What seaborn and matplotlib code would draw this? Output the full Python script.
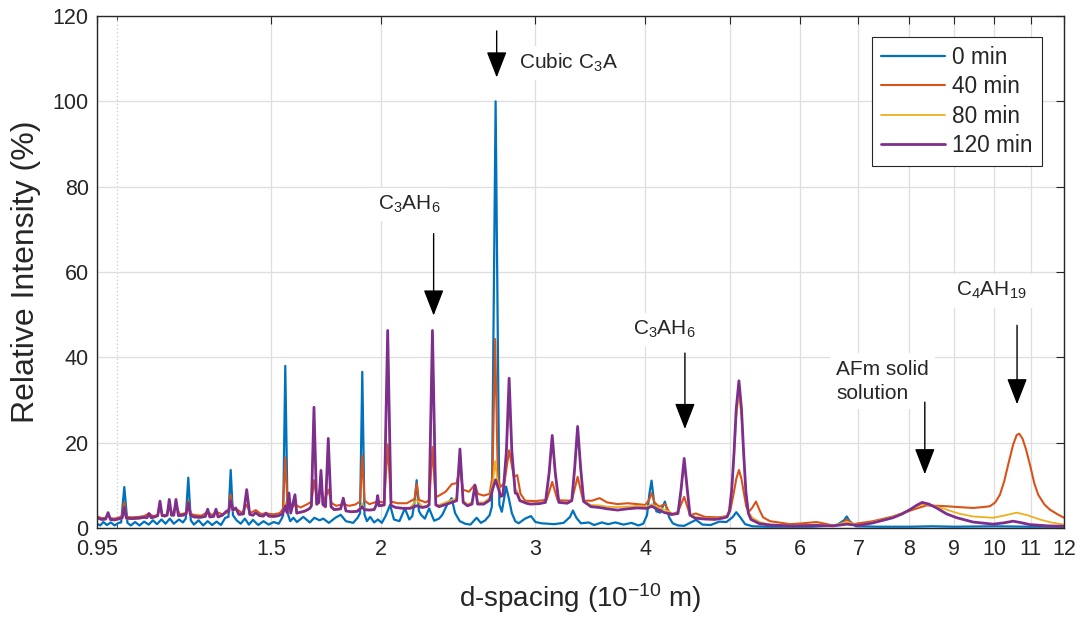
import numpy as np
import pandas as pd
import matplotlib
matplotlib.use("Agg")
import matplotlib.pyplot as plt
import seaborn as sns
from matplotlib.ticker import FixedLocator, FixedFormatter, NullFormatter

# ---------------------------------------------------------------------------
# XRD traces: (d-spacing in 1e-10 m, relative intensity in %)
# ---------------------------------------------------------------------------
scan_0min = [
    (0.950, 1.0), (0.958, 0.6), (0.966, 1.4), (0.975, 0.7), (0.985, 1.3), (0.995, 0.6), (1.005, 1.2),
    (1.012, 1.3), (1.0205, 9.6), (1.029, 1.2),
    (1.038, 0.6), (1.050, 1.4), (1.062, 0.6), (1.075, 1.5), (1.088, 0.8), (1.100, 1.8), (1.112, 0.9),
    (1.125, 2.0), (1.137, 1.0), (1.150, 2.2), (1.162, 1.0), (1.178, 2.0), (1.190, 1.3),
    (1.199, 2.2), (1.207, 11.8), (1.215, 1.8),
    (1.225, 0.8), (1.240, 1.8), (1.255, 0.6), (1.270, 1.6), (1.285, 0.7), (1.300, 1.5), (1.315, 0.7),
    (1.330, 2.4), (1.341, 2.6), (1.349, 13.6), (1.357, 3.0),
    (1.370, 1.8), (1.385, 1.0), (1.400, 2.2), (1.415, 0.8), (1.430, 1.9), (1.450, 0.7), (1.470, 1.6),
    (1.490, 0.8), (1.510, 1.4), (1.530, 1.0), (1.542, 2.2),
    (1.548, 3.0), (1.5566, 38.0), (1.566, 3.5),
    (1.577, 1.6), (1.590, 2.4), (1.605, 1.4), (1.632, 2.6), (1.660, 1.3), (1.680, 2.4), (1.703, 1.8),
    (1.720, 2.2), (1.745, 1.2), (1.775, 2.4), (1.800, 3.1), (1.825, 1.6), (1.860, 1.2), (1.882, 2.4),
    (1.894, 3.5), (1.905, 36.6), (1.916, 3.2),
    (1.928, 1.6), (1.945, 2.6), (1.965, 1.3), (1.985, 2.0), (2.005, 1.2), (2.025, 2.8), (2.049, 5.4),
    (2.070, 2.0), (2.100, 1.6), (2.130, 4.6), (2.155, 2.0), (2.172, 2.8),
    (2.185, 6.0), (2.197, 11.2), (2.210, 4.0),
    (2.222, 3.1), (2.245, 2.2), (2.270, 4.6), (2.300, 1.7), (2.330, 2.2), (2.350, 3.1), (2.380, 5.5),
    (2.408, 7.0), (2.430, 3.5), (2.460, 1.6), (2.495, 1.0), (2.530, 0.8), (2.571, 2.4), (2.600, 1.2),
    (2.630, 1.8), (2.660, 3.0),
    (2.676, 5.0), (2.7025, 100.0), (2.729, 5.5),
    (2.747, 3.8), (2.778, 9.7), (2.800, 6.6), (2.820, 3.5), (2.845, 1.6), (2.870, 1.1),
    (2.920, 2.2), (2.965, 2.8), (3.000, 1.4), (3.050, 1.1), (3.100, 1.0), (3.150, 0.9), (3.230, 1.2),
    (3.285, 2.6), (3.310, 4.1), (3.340, 2.4), (3.380, 1.1), (3.450, 1.3), (3.500, 0.7), (3.570, 1.3),
    (3.630, 0.9), (3.700, 1.3), (3.780, 0.8), (3.860, 1.2), (3.930, 0.6), (3.980, 1.0), (4.020, 3.0),
    (4.045, 8.0), (4.068, 11.1), (4.095, 6.0),
    (4.120, 3.9), (4.160, 3.6), (4.213, 6.2), (4.260, 2.5), (4.300, 1.1), (4.360, 0.6), (4.430, 0.5),
    (4.500, 1.2), (4.570, 1.9), (4.650, 0.8), (4.750, 0.7), (4.860, 1.5), (4.950, 1.4), (5.030, 2.5),
    (5.080, 3.7), (5.130, 2.6), (5.200, 0.9), (5.300, 0.4), (5.500, 0.3), (5.800, 0.3), (6.200, 0.3),
    (6.600, 0.6), (6.740, 1.8), (6.787, 2.7), (6.840, 1.6), (6.950, 0.4), (7.400, 0.3), (8.000, 0.3),
    (8.500, 0.4), (9.000, 0.3), (10.000, 0.4), (11.000, 0.3), (12.000, 0.3),
]

scan_40min = [
    (0.950, 2.7), (0.962, 2.3), (0.972, 2.4), (0.978, 3.2), (0.984, 2.3), (0.995, 2.2), (1.008, 2.5),
    (1.014, 2.8), (1.0205, 6.0), (1.027, 2.6),
    (1.040, 2.5), (1.060, 2.6), (1.075, 2.8), (1.0887, 3.4), (1.100, 2.8),
    (1.114, 3.0), (1.1206, 5.0), (1.127, 3.0), (1.140, 3.1), (1.1483, 5.0), (1.156, 3.1),
    (1.1687, 5.2), (1.180, 3.2),
    (1.199, 3.5), (1.207, 6.4), (1.215, 3.3),
    (1.230, 3.0), (1.250, 2.9), (1.270, 3.8), (1.285, 3.0), (1.2979, 3.8), (1.320, 3.2),
    (1.341, 3.8), (1.349, 7.8), (1.357, 4.3), (1.375, 4.2), (1.390, 3.5), (1.4068, 5.5), (1.420, 3.5),
    (1.4407, 4.2), (1.460, 3.3), (1.480, 3.4), (1.510, 3.2), (1.535, 3.5),
    (1.547, 4.5), (1.5566, 16.5), (1.566, 5.0),
    (1.5718, 6.0), (1.585, 4.8), (1.5967, 5.5), (1.620, 4.8), (1.650, 5.6), (1.668, 6.2),
    (1.6783, 11.2), (1.690, 7.0), (1.7094, 9.5), (1.725, 6.3), (1.7424, 9.0), (1.758, 5.8),
    (1.780, 5.2), (1.8124, 5.6), (1.840, 5.2), (1.870, 5.5), (1.894, 6.2), (1.905, 17.0), (1.916, 6.4),
    (1.940, 5.6), (1.9835, 6.2), (2.018, 6.0), (2.0362, 19.6), (2.054, 6.2),
    (2.090, 5.8), (2.140, 5.8), (2.185, 6.8), (2.197, 10.4), (2.210, 6.6), (2.250, 6.0), (2.272, 6.6),
    (2.2899, 19.0), (2.308, 7.2),
    (2.330, 7.6), (2.370, 8.5), (2.410, 10.3), (2.440, 10.5), (2.4612, 14.3), (2.480, 9.0),
    (2.520, 8.5), (2.560, 10.2), (2.580, 8.0), (2.620, 7.6), (2.660, 8.0), (2.680, 12.0),
    (2.6995, 44.3), (2.718, 12.0), (2.735, 9.6), (2.765, 10.5), (2.800, 18.2), (2.835, 12.0),
    (2.860, 12.4), (2.885, 8.0), (2.920, 6.4), (3.000, 6.3), (3.090, 6.6), (3.135, 10.8), (3.180, 6.5),
    (3.300, 6.4), (3.351, 12.0), (3.400, 6.4), (3.480, 6.4), (3.550, 7.0), (3.620, 6.0), (3.720, 5.6),
    (3.820, 5.8), (3.920, 5.6), (4.000, 5.4), (4.040, 6.5), (4.068, 8.2), (4.100, 6.0), (4.150, 5.0),
    (4.213, 5.6), (4.280, 3.0), (4.360, 3.8), (4.4316, 7.3), (4.500, 3.0), (4.570, 3.4), (4.680, 2.6),
    (4.850, 2.5), (4.960, 2.8), (5.000, 4.0), (5.050, 8.5), (5.080, 11.5), (5.116, 13.6),
    (5.150, 11.5), (5.180, 8.5), (5.215, 5.0), (5.250, 3.8), (5.300, 4.8), (5.349, 6.2), (5.400, 4.2),
    (5.450, 2.5), (5.550, 1.6), (5.850, 0.9), (6.050, 1.1), (6.272, 1.4), (6.548, 0.6), (6.700, 1.0),
    (6.787, 2.0), (6.900, 0.9), (7.271, 1.6), (7.663, 2.7), (8.075, 4.3), (8.368, 5.3), (8.600, 5.2),
    (8.822, 5.1), (9.100, 4.9), (9.450, 4.7), (9.700, 4.9), (9.881, 5.1), (10.020, 6.0),
    (10.144, 7.8), (10.260, 11.0), (10.367, 14.9), (10.500, 19.5), (10.600, 21.8), (10.670, 22.1),
    (10.760, 21.0), (10.860, 18.5), (10.973, 14.9), (11.100, 10.5), (11.215, 7.8), (11.400, 5.5),
    (11.565, 4.3), (11.800, 3.2), (12.000, 2.4),
]

scan_80min = [
    (0.950, 2.3), (0.962, 1.9), (0.972, 2.0), (0.978, 3.3), (0.984, 1.9), (0.995, 1.8), (1.008, 2.1),
    (1.015, 2.3), (1.0205, 4.5), (1.026, 2.2),
    (1.040, 2.1), (1.060, 2.2), (1.075, 2.4), (1.083, 2.3), (1.0887, 3.2), (1.095, 2.3), (1.105, 2.5),
    (1.114, 2.8), (1.1206, 6.0), (1.127, 2.8),
    (1.135, 2.7), (1.142, 2.9), (1.1483, 6.4), (1.155, 2.9), (1.162, 2.9), (1.1687, 6.4), (1.176, 2.8),
    (1.190, 2.9), (1.200, 3.2), (1.207, 5.6), (1.214, 2.9),
    (1.225, 2.5), (1.245, 2.4), (1.262, 2.6), (1.270, 4.2), (1.277, 2.5), (1.290, 2.6), (1.2979, 4.2),
    (1.305, 2.5), (1.320, 2.9), (1.335, 3.8), (1.342, 3.7), (1.349, 6.1), (1.357, 4.0), (1.367, 4.5),
    (1.378, 3.1), (1.395, 3.2), (1.4068, 8.6), (1.418, 3.1),
    (1.430, 2.9), (1.440, 3.5), (1.455, 2.8), (1.470, 2.7), (1.4798, 3.4), (1.490, 2.7), (1.510, 2.6),
    (1.530, 2.8), (1.545, 3.4), (1.5566, 6.0), (1.564, 3.5),
    (1.5718, 7.8), (1.579, 3.4), (1.5967, 7.4), (1.604, 3.4),
    (1.620, 3.6), (1.640, 3.9), (1.660, 4.5), (1.667, 5.0), (1.6783, 27.0), (1.690, 5.4),
    (1.700, 5.8), (1.7094, 13.0), (1.718, 5.3),
    (1.730, 4.8), (1.7424, 20.0), (1.755, 4.8),
    (1.770, 4.2), (1.800, 4.4), (1.8124, 6.7), (1.825, 4.0), (1.850, 3.9), (1.880, 4.1), (1.897, 4.8),
    (1.905, 5.8), (1.915, 4.5), (1.940, 4.3), (1.965, 4.4), (1.976, 5.3), (1.9835, 7.3), (1.991, 5.1),
    (2.018, 5.3), (2.0362, 44.5), (2.054, 5.2),
    (2.080, 4.8), (2.120, 4.7), (2.160, 4.8), (2.197, 6.6), (2.230, 5.0), (2.255, 5.2), (2.270, 5.5),
    (2.2899, 44.5), (2.310, 5.5),
    (2.330, 5.4), (2.370, 6.0), (2.410, 6.6), (2.440, 6.9), (2.4612, 17.8), (2.482, 6.4),
    (2.510, 5.6), (2.540, 6.0), (2.560, 9.8), (2.578, 6.0), (2.620, 6.0), (2.660, 7.0), (2.685, 11.0),
    (2.6995, 15.7), (2.715, 11.0), (2.740, 7.8),
    (2.755, 8.0), (2.780, 17.0), (2.800, 33.0), (2.820, 17.0), (2.845, 9.0), (2.860, 8.6),
    (2.880, 6.6), (2.930, 5.8), (2.960, 5.7), (3.030, 5.8), (3.080, 6.1), (3.110, 12.6), (3.135, 21.0),
    (3.160, 12.6), (3.190, 6.1), (3.260, 5.9), (3.300, 6.4), (3.325, 13.5), (3.351, 23.0),
    (3.378, 13.5), (3.405, 6.2), (3.470, 5.4), (3.550, 5.3), (3.620, 5.0), (3.720, 4.9), (3.820, 5.0),
    (3.920, 5.2), (4.020, 5.0), (4.070, 5.6), (4.130, 4.9), (4.210, 4.3), (4.300, 3.4), (4.360, 3.5),
    (4.395, 8.6), (4.4316, 15.5), (4.468, 8.6), (4.500, 3.2), (4.560, 2.6), (4.680, 2.3),
    (4.800, 2.2), (4.900, 2.5), (4.960, 3.0), (4.990, 4.2), (5.020, 8.5), (5.050, 16.5),
    (5.080, 26.0), (5.116, 31.4), (5.150, 26.0), (5.180, 16.5), (5.210, 8.2), (5.243, 3.8),
    (5.300, 2.4), (5.400, 1.4), (5.550, 0.8), (5.850, 0.6), (6.270, 0.8), (6.550, 0.6), (6.790, 1.4),
    (7.000, 0.7), (7.270, 1.4), (7.660, 2.6), (8.010, 4.3), (8.150, 5.1), (8.300, 5.6), (8.450, 5.4),
    (8.590, 5.0), (8.822, 4.3), (9.100, 3.4), (9.450, 2.7), (9.960, 2.4), (10.300, 3.0),
    (10.600, 3.6), (10.900, 3.0), (11.260, 2.0), (11.600, 1.3), (12.000, 0.8),
]

scan_120min = [
    (0.950, 2.4), (0.962, 2.0), (0.972, 2.1), (0.978, 3.6), (0.984, 2.0), (0.995, 1.9), (1.008, 2.2),
    (1.015, 2.4), (1.0205, 4.8), (1.026, 2.3),
    (1.040, 2.2), (1.060, 2.3), (1.075, 2.5), (1.083, 2.4), (1.0887, 3.4), (1.095, 2.4), (1.105, 2.6),
    (1.114, 2.9), (1.1206, 6.3), (1.127, 2.9),
    (1.135, 2.8), (1.142, 3.0), (1.1483, 6.7), (1.155, 3.0), (1.162, 3.0), (1.1687, 6.7), (1.176, 2.9),
    (1.190, 3.0), (1.200, 3.3), (1.207, 5.9), (1.214, 3.0),
    (1.225, 2.6), (1.245, 2.5), (1.262, 2.7), (1.270, 4.4), (1.277, 2.6), (1.290, 2.7), (1.2979, 4.4),
    (1.305, 2.6), (1.320, 3.0), (1.335, 4.0), (1.342, 3.8), (1.349, 6.4), (1.357, 4.2), (1.367, 4.7),
    (1.378, 3.2), (1.395, 3.3), (1.4068, 9.0), (1.418, 3.2),
    (1.430, 3.0), (1.440, 3.6), (1.455, 2.9), (1.470, 2.8), (1.4798, 3.5), (1.490, 2.8), (1.510, 2.7),
    (1.530, 2.9), (1.545, 3.3), (1.5566, 5.2), (1.564, 3.6),
    (1.5718, 8.2), (1.579, 3.5), (1.5967, 7.8), (1.604, 3.5),
    (1.620, 3.7), (1.640, 4.0), (1.660, 4.6), (1.667, 5.2), (1.6783, 28.3), (1.690, 5.6),
    (1.700, 6.0), (1.7094, 13.5), (1.718, 5.5),
    (1.730, 5.0), (1.7424, 21.0), (1.755, 5.0),
    (1.770, 4.3), (1.800, 4.5), (1.8124, 7.0), (1.825, 4.0), (1.850, 3.8), (1.880, 3.9), (1.897, 4.6),
    (1.905, 5.0), (1.915, 4.3), (1.940, 4.2), (1.965, 4.3), (1.976, 5.4), (1.9835, 7.6), (1.991, 5.2),
    (2.018, 5.4), (2.0362, 46.3), (2.054, 5.3),
    (2.080, 4.8), (2.120, 4.6), (2.160, 4.6), (2.197, 5.2), (2.230, 4.8), (2.255, 5.0), (2.270, 5.4),
    (2.2899, 46.3), (2.310, 5.4),
    (2.330, 5.0), (2.370, 5.5), (2.410, 6.0), (2.440, 6.4), (2.4612, 18.5), (2.482, 6.0),
    (2.510, 5.2), (2.540, 5.6), (2.560, 10.0), (2.578, 5.6), (2.620, 5.6), (2.660, 6.5), (2.685, 9.5),
    (2.7025, 11.3), (2.720, 9.5), (2.740, 7.4),
    (2.755, 7.6), (2.780, 18.0), (2.800, 35.1), (2.820, 18.0), (2.845, 8.2), (2.860, 8.0),
    (2.880, 6.4), (2.930, 5.8), (2.960, 5.6), (3.030, 5.7), (3.080, 6.0), (3.110, 13.0), (3.135, 21.7),
    (3.160, 13.0), (3.190, 6.0), (3.260, 5.8), (3.300, 6.4), (3.325, 14.0), (3.351, 23.8),
    (3.378, 14.0), (3.405, 6.2), (3.470, 5.0), (3.550, 4.8), (3.620, 4.5), (3.720, 4.2), (3.820, 4.5),
    (3.920, 4.7), (4.020, 4.6), (4.070, 5.1), (4.130, 4.4), (4.210, 3.6), (4.300, 3.2), (4.360, 3.4),
    (4.395, 9.0), (4.4316, 16.3), (4.468, 9.0), (4.500, 3.0), (4.560, 2.3), (4.680, 2.1),
    (4.800, 2.0), (4.900, 2.3), (4.960, 2.6), (4.990, 4.0), (5.020, 9.0), (5.050, 17.5),
    (5.080, 28.0), (5.116, 34.5), (5.150, 28.0), (5.180, 17.5), (5.210, 8.5), (5.243, 3.5),
    (5.280, 2.0), (5.400, 1.0), (5.550, 0.7), (5.850, 0.5), (6.270, 0.6), (6.550, 0.5), (6.790, 0.9),
    (7.000, 0.6), (7.270, 1.2), (7.500, 1.9), (7.660, 2.4), (7.850, 3.3), (8.010, 4.3), (8.150, 5.3),
    (8.270, 6.0), (8.420, 5.6), (8.590, 4.7), (8.820, 3.3), (9.060, 2.4), (9.450, 1.4), (9.960, 0.9),
    (10.250, 1.2), (10.500, 1.6), (10.750, 1.2), (10.970, 0.8), (11.500, 0.5), (12.000, 0.4),
]

series_labels = ["0 min", "40 min", "80 min", "120 min"]
series_colors = ["#0072BD", "#D95319", "#EDB120", "#7E2F8E"]
series_widths = [1.6, 1.5, 1.3, 2.0]

tick_values = [0.95, 1.5, 2, 3, 4, 5, 6, 7, 8, 9, 10, 11, 12]
tick_labels = ["0.95", "1.5", "2", "3", "4", "5", "6", "7", "8", "9", "10", "11", "12"]

# ---------------------------------------------------------------------------
frames = []
for label, pts in zip(series_labels, [scan_0min, scan_40min, scan_80min, scan_120min]):
    arr = np.asarray(pts, dtype=float)
    frames.append(pd.DataFrame({"d": arr[:, 0], "intensity": arr[:, 1], "time": label}))
df = pd.concat(frames, ignore_index=True)

sns.set_style("white")
plt.rcParams["font.family"] = ["Liberation Sans", "DejaVu Sans"]
plt.rcParams["mathtext.fontset"] = "custom"
plt.rcParams["mathtext.rm"] = "Liberation Sans"
plt.rcParams["mathtext.it"] = "Liberation Sans:italic"
plt.rcParams["mathtext.bf"] = "Liberation Sans:bold"
plt.rcParams["mathtext.default"] = "regular"

W, H = 1084, 618
fig = plt.figure(figsize=(W / 100, H / 100), dpi=100)
ax = fig.add_axes([97 / W, 90 / H, 967 / W, 512 / H])

for label, color, lw in zip(series_labels, series_colors, series_widths):
    sub = df[df["time"] == label]
    sns.lineplot(data=sub, x="d", y="intensity", color=color, linewidth=lw,
                 estimator=None, sort=False, label=label, ax=ax)

ax.set_xscale("log")
ax.set_xlim(0.95, 12)
ax.set_ylim(0, 120)
ax.xaxis.set_major_locator(FixedLocator(tick_values))
ax.xaxis.set_major_formatter(FixedFormatter(tick_labels))
ax.xaxis.set_minor_locator(FixedLocator([1.0]))
ax.xaxis.set_minor_formatter(NullFormatter())
ax.set_yticks([0, 20, 40, 60, 80, 100, 120])

axis_color = "#262626"
ax.set_axisbelow(True)
ax.grid(True, which="major", color="#dedede", linewidth=0.9)
ax.grid(True, which="minor", axis="x", color="#c8c8c8", linewidth=0.9, linestyle=(0, (1, 2)))
for sp in ax.spines.values():
    sp.set_color(axis_color)
    sp.set_linewidth(1.0)
ax.tick_params(which="major", direction="in", length=6, width=0.8, color=axis_color,
               top=True, right=True, labelsize=15.5, labelcolor=axis_color)
ax.tick_params(axis="x", which="major", pad=8)
ax.tick_params(axis="y", which="major", pad=6)
ax.tick_params(which="minor", direction="in", length=3, width=0.6, color=axis_color,
               top=True, bottom=True)

ax.set_xlabel("d-spacing (10$^{-10}$ m)", fontsize=20, color=axis_color, labelpad=15)
ax.set_ylabel("Relative Intensity (%)", fontsize=23, color=axis_color, labelpad=8)

leg = ax.legend(loc="upper right", bbox_to_anchor=(0.977, 0.959), borderaxespad=0,
                fontsize=16.3, frameon=True, fancybox=False, framealpha=1,
                edgecolor=axis_color, handlelength=2.85, handletextpad=0.3,
                labelspacing=0.28, borderpad=0.4)
leg.get_frame().set_linewidth(0.8)

# Peak annotations
box = dict(boxstyle="square,pad=0.3", fc="white", ec="none")
afs = 15
ax.text(2.87, 109.0, "Cubic C$_3$A", fontsize=afs, ha="left", va="center", bbox=box)
ax.text(2.155, 75.8, "C$_3$AH$_6$", fontsize=afs, ha="center", va="center", bbox=box)
ax.text(4.21, 46.5, "C$_3$AH$_6$", fontsize=afs, ha="center", va="center", bbox=box)
ax.text(6.60, 34.4, "AFm solid\nsolution", fontsize=afs, ha="left", va="center",
        linespacing=1.35, bbox=box)
ax.text(9.93, 55.6, "C$_4$AH$_{19}$", fontsize=afs, ha="center", va="center", bbox=box)

arrow = dict(arrowstyle="-|>,head_length=0.9,head_width=0.35", color="k", lw=1.0,
             shrinkA=0, shrinkB=0, mutation_scale=18)
for x, y0, y1 in [(2.71, 116.5, 105.6), (2.297, 69.0, 49.8), (4.44, 41.0, 23.2),
                  (8.33, 29.5, 12.6), (10.61, 47.5, 29.0)]:
    ax.annotate("", xy=(x, y1), xytext=(x, y0), arrowprops=arrow)

fig.savefig("out.png", dpi=100)
